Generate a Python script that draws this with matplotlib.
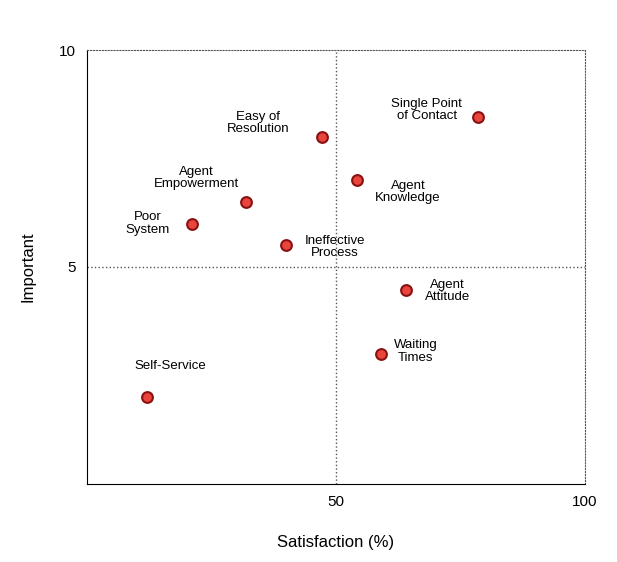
import numpy as np
import matplotlib.pyplot as plt

labels = ["Self-Service", "Poor\nSystem", "Agent\nEmpowerment", "Ineffective\nProcess",
          "Easy of\nResolution", "Agent\nKnowledge", "Single Point\nof Contact",
          "Agent\nAttitude", "Waiting\nTimes"]
satisfaction = [12, 21, 32, 40, 47.2, 54.2, 78.5, 64, 59]
importance = [2.0, 6.0, 6.5, 5.5, 8.0, 7.0, 8.45, 4.47, 3.0]
# label offsets in pixels
offsets = [(24, 31), (-44, 0), (-50, 24), (49, -2), (-64, 14), (51, -12),
           (-51, 7), (42, -1), (35, 2)]

fig = plt.figure(figsize=(6.17, 5.62), dpi=100)
ax = fig.add_axes([0.141, 0.139, 0.807, 0.772])
ax.scatter(satisfaction, importance, s=60, color="#e8453c", edgecolor="#8b1010",
           linewidth=1.5, zorder=3)
for lab, x, y, off in zip(labels, satisfaction, importance, offsets):
    ax.annotate(lab, (x, y), xytext=off, textcoords="offset pixels",
                ha="center", va="center", fontsize=9.5, linespacing=1.05,
                family="Liberation Sans")

ax.set_xlim(0, 100)
ax.set_ylim(0, 10)
ax.set_xticks([50, 100])
ax.set_yticks([5, 10])
ax.axvline(50, color="#555555", linestyle=":", linewidth=1)
ax.axhline(5, color="#555555", linestyle=":", linewidth=1)
for s in ["top", "right"]:
    ax.spines[s].set_linestyle(":")
    ax.spines[s].set_color("#555555")
ax.tick_params(length=0, labelsize=11, pad=8)
for t in ax.get_xticklabels() + ax.get_yticklabels():
    t.set_family("Liberation Sans")
ax.set_xlabel("Satisfaction (%)", fontsize=12, family="Liberation Sans", labelpad=19)
ax.set_ylabel("Important", fontsize=12, family="Liberation Sans", labelpad=17)
fig.savefig("out.png")
